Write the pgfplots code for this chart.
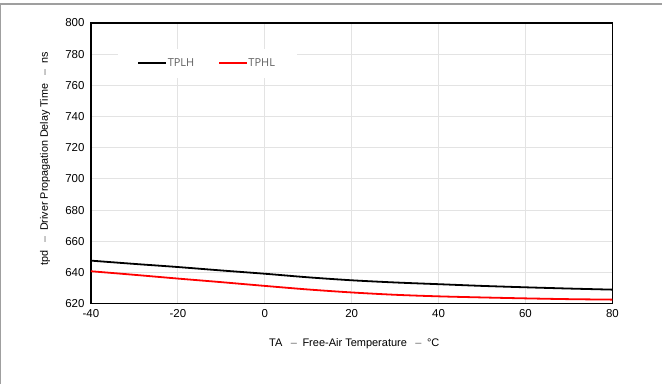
\documentclass[border=0pt]{standalone}
\usepackage{pgfplots}
\pgfplotsset{compat=1.18}
\usepackage{fontspec}
\setmainfont{Liberation Sans}
\newfontfamily\legfont{Open Sans}
\begin{document}
\begin{tikzpicture}
\path (0pt,0pt) rectangle (663pt,384pt);
\draw[gray!75, line width=1.3pt] (0.6pt,0pt) -- (0.6pt,380pt) -- (663pt,380pt);
\begin{axis}[
  at={(91pt,80pt)}, anchor=south west,
  scale only axis, width=522pt, height=281pt,
  xmin=-40, xmax=80, ymin=620, ymax=800,
  xtick={-40,-20,...,80}, ytick={620,640,...,800},
  grid=major, major grid style={gray!22, line width=0.9pt},
  axis line style={black, line width=1.2pt},
  tick style={draw=none},
  tick label style={font=\fontsize{11.5}{13}\selectfont},
  /pgf/number format/assume math mode=true,
  xticklabel style={yshift=-2pt},
  yticklabel style={xshift=-3pt},
  xlabel={TA \enspace{\color{black!60}–}\enspace Free-Air Temperature \enspace{\color{black!60}–}\enspace °C},
  ylabel={tpd \enspace{\color{black!60}–}\enspace Driver Propagation Delay Time \enspace{\color{black!60}–}\enspace ns},
  xlabel style={font=\fontsize{11}{13}\selectfont, at={(axis description cs:0.505,0)}, anchor=center, yshift=-40pt},
  ylabel style={font=\fontsize{10.8}{13}\selectfont, at={(axis description cs:0,0.515)}, anchor=center, yshift=46pt},
  legend columns=2,
  legend style={draw=none, fill=white, at={(rel axis cs:0.223,0.856)}, anchor=center,
    font=\legfont\fontsize{11}{13}\selectfont, text=black!62,
    inner xsep=20pt, inner ysep=8pt,
    /tikz/every odd column/.append style={column sep=-1.5pt},
    /tikz/every even column/.append style={column sep=22pt}},
  legend image code/.code={\draw[#1] (0pt,0pt) -- (28pt,0pt);},
]
\addplot[black, line width=1.8pt, smooth] coordinates {
(-40,647.6) (-30,645.5) (-20,643.5) (-10,641.3) (0,639.2) (10,636.9) (20,635.0) (30,633.6) (40,632.5) (50,631.4) (60,630.5) (70,629.7) (80,629.0)};
\addlegendentry{TPLH}
\addplot[red, line width=1.8pt, smooth] coordinates {
(-40,640.8) (-30,638.5) (-20,636.1) (-10,633.8) (0,631.4) (10,629.1) (20,627.2) (30,625.7) (40,624.7) (50,624.0) (60,623.4) (70,622.9) (80,622.6)};
\addlegendentry{TPHL}
\end{axis}
\end{tikzpicture}
\end{document}
